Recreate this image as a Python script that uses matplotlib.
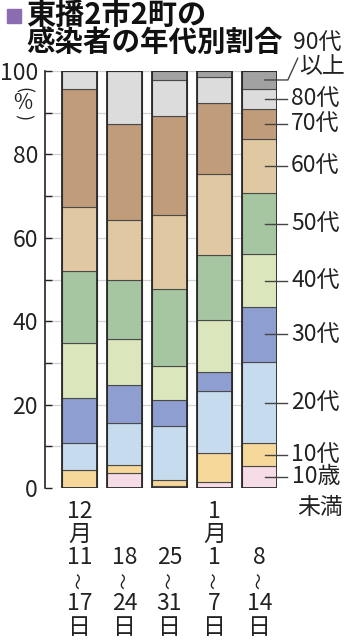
import matplotlib
matplotlib.use("Agg")
import matplotlib.pyplot as plt
import matplotlib.transforms as mtransforms
from matplotlib.patches import Rectangle

plt.rcParams['font.family'] = ['Noto Sans CJK JP', 'DejaVu Sans']

# ==========================================
# データ (各週の年代別割合, %)
# ==========================================
start_days = ['11', '18', '25', '1', '8']
end_days = ['17', '24', '31', '7', '14']
month_num = ['12', '', '', '1', '']

age_labels = ['10歳\n未満', '10代', '20代', '30代', '40代',
              '50代', '60代', '70代', '80代', '90代\n以上']
under10 = [0.0, 3.7, 0.5, 1.5, 5.3]
teens = [4.3, 1.8, 1.3, 7.0, 5.4]
twenties = [6.6, 10.0, 13.1, 14.8, 19.6]
thirties = [10.8, 9.2, 6.2, 4.6, 13.2]
forties = [13.0, 11.0, 8.1, 12.4, 12.5]
fifties = [17.4, 14.1, 18.5, 15.6, 14.8]
sixties = [15.2, 14.5, 17.7, 19.3, 13.0]
seventies = [28.3, 23.1, 23.8, 17.1, 7.2]
eighties = [4.4, 12.6, 8.6, 6.2, 4.7]
nineties = [0.0, 0.0, 2.2, 1.5, 4.3]

series = [under10, teens, twenties, thirties, forties,
          fifties, sixties, seventies, eighties, nineties]
colors = ['#f5dce6', '#f5d89a', '#c6dcee', '#8e9ed0', '#dce6bc',
          '#a6c6a2', '#e0c9a2', '#c09c7a', '#dcdcdc', '#a2a2a2']

# ==========================================
# 図の枠 (ピクセル基準で配置)
# ==========================================
W, H = 344, 640
fig = plt.figure(figsize=(W / 100, H / 100), dpi=100)


def fx(px):
    return px / W


def fy(py):
    return 1 - py / H


ax = fig.add_axes([fx(45), fy(488), fx(277) - fx(45), fy(71) - fy(488)])

x = list(range(len(start_days)))
bar_w = 0.778
bottom = [0.0] * len(x)
for vals, col in zip(series, colors):
    ax.bar(x, vals, bar_w, bottom=bottom, color=col,
           edgecolor='#4a4a4a', linewidth=0.8, zorder=2)
    bottom = [b + v for b, v in zip(bottom, vals)]
# 外枠
ax.bar(x, bottom, bar_w, fill=False, edgecolor='#2a2a2a', linewidth=1.3, zorder=3)

ax.set_xlim(-0.767, 4.389)
ax.set_ylim(0, 100)
ax.set_yticks(range(0, 101, 20))
ax.set_yticks(range(10, 100, 20), minor=True)
ax.set_xticks([])
ax.tick_params(axis='y', which='both', direction='in', length=5, width=1,
               color='#222222', labelsize=16.5, pad=5, labelcolor='#222222')
ax.yaxis.grid(True, which='both', color='#d2d2d2', linewidth=0.9, zorder=0)
ax.set_axisbelow(True)
for s in ['top', 'right', 'bottom']:
    ax.spines[s].set_visible(False)
ax.spines['left'].set_linewidth(1.2)
ax.spines['left'].set_color('#222222')

# (%) 縦書き
fig.text(fx(23), fy(90), '(', rotation=-90, ha='center', va='center', fontsize=13, color='#222222')
fig.text(fx(23), fy(103), '%', ha='center', va='center', fontsize=15, color='#222222')
fig.text(fx(23), fy(117), ')', rotation=-90, ha='center', va='center', fontsize=13, color='#222222')

# ==========================================
# タイトル
# ==========================================
fig.patches.append(Rectangle((fx(7), fy(23)), fx(14), 14 / H, transform=fig.transFigure,
                             color='#8c6cb0', figure=fig))
fig.text(fx(26), fy(15), '東播2市2町の', fontsize=21, fontweight='bold', va='center', color='#111111')
fig.text(fx(26), fy(43), '感染者の年代別割合', fontsize=20.5, fontweight='bold', va='center', color='#111111')

# ==========================================
# 右側の年代ラベル (最終週の各区分の中央)
# ==========================================
trans_lab = mtransforms.blended_transform_factory(fig.transFigure, ax.transData)
last = [s[-1] for s in series]
cum = 0.0
for lab, v in zip(age_labels, last):
    mid = cum + v / 2
    cum += v
    if lab.startswith('90'):
        ax.plot([4.12, 4.63, 4.85], [mid, mid, mid + 5.2], color='#444444',
                lw=1, clip_on=False, zorder=4)
        fig.text(fx(293), fy(42), '90代', fontsize=16.5, va='center', color='#222222')
        fig.text(fx(299), fy(67), '以上', fontsize=16.5, va='center', color='#222222')
        continue
    ax.plot([4.12, 4.61], [mid, mid], color='#444444', lw=1, clip_on=False, zorder=4)
    if '\n' in lab:
        a, b = lab.split('\n')
        ax.text(fx(292), mid, a, transform=trans_lab, fontsize=16.5, va='center', color='#222222')
        ax.text(fx(297), mid - 31 / 4.17, b, transform=trans_lab, fontsize=16.5, va='center', color='#222222')
    else:
        ax.text(fx(291), mid, lab, transform=trans_lab, fontsize=16.5, va='center', color='#222222')

# ==========================================
# 下の日付ラベル (縦書き)
# ==========================================
trans_x = mtransforms.blended_transform_factory(ax.transData, fig.transFigure)
for i in x:
    kw = dict(transform=trans_x, ha='center', va='center', fontsize=16.5, color='#222222')
    if month_num[i]:
        ax.text(i, fy(511), month_num[i], **kw)
        ax.text(i, fy(534), '月', **kw)
    ax.text(i, fy(557), start_days[i], **kw)
    ax.text(i, fy(581), '〜', rotation=90, transform=trans_x, ha='center', va='center',
            fontsize=12, color='#222222')
    ax.text(i, fy(604), end_days[i], **kw)
    ax.text(i, fy(628), '日', **kw)

fig.savefig('out.png', dpi=100)
